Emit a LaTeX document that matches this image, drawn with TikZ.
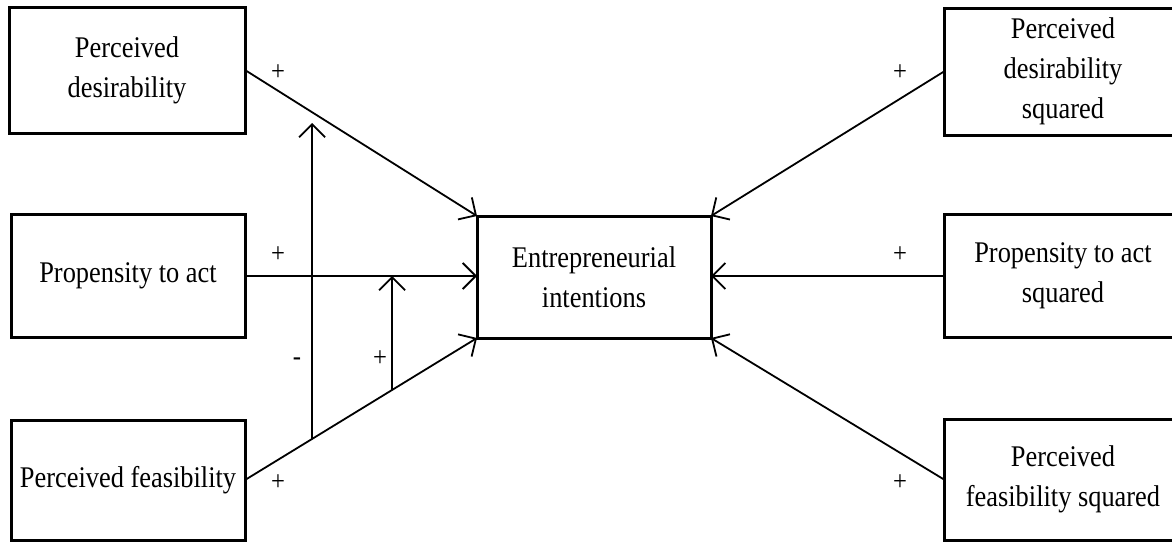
\documentclass[tikz,border=0pt]{standalone}
\usepackage{fontspec}
\setmainfont{Liberation Serif}[FakeStretch=0.88]
\usetikzlibrary{arrows.meta}
\begin{document}
\begin{tikzpicture}[x=1pt,y=-1pt,
  box/.style={draw,line width=3pt,outer sep=0pt,inner sep=2pt,align=center,
    font=\fontsize{30}{40}\selectfont},
  link/.style={line width=1.8pt,-{Straight Barb[length=13pt,width=26pt,line width=1.8pt]}},
  sign/.style={font=\fontsize{28}{28}\selectfont,inner sep=0pt}]
\clip (0,0) rectangle (1172,541);
\fill[white] (0,0) rectangle (1172,541);
% left boxes
\node[box,minimum width=236pt,minimum height=126pt] (PD) at (127,70) {Perceived\\desirability};
\node[box,minimum width=234pt,minimum height=123pt] (PA) at (128,276) {Propensity to act};
\node[box,minimum width=234pt,minimum height=120pt] (PF) at (128,480) {Perceived feasibility};
% centre
\node[box,minimum width=234pt,minimum height=122pt] (EI) at (594,277) {Entrepreneurial\\intentions};
% right boxes
\node[box,minimum width=238pt,minimum height=127pt] (PDS) at (1063,71.5) {Perceived\\desirability\\squared};
\node[box,minimum width=238pt,minimum height=123pt] (PAS) at (1063,276) {Propensity to act\\squared};
\node[box,minimum width=238pt,minimum height=121pt] (PFS) at (1063,479.5) {Perceived\\feasibility squared};
% arrows
\draw[link] (PD.east) -- (EI.north west);
\draw[link] (PA.east) -- (PA.east -| EI.west);
\draw[link] (PF.east) -- (EI.south west);
\draw[link] (PDS.west) -- (EI.north east);
\draw[link] (PAS.west) -- (PAS.west -| EI.east);
\draw[link] (PFS.west) -- (EI.south east);
% moderation arrows
\path (PF.east) -- (EI.south west) coordinate[pos=0.289] (m1) coordinate[pos=0.634] (m2);
\coordinate (t1) at (312,123);
\draw[link] (m1) -- (m1 |- t1);
\draw[link] (m2) -- (m2 |- PA.east);
% signs
\node[sign] (s1) at (278,73) {+};
\node[sign] (s2) at (278,255) {+};
\node[sign] (s3) at (278,483) {+};
\node[sign] (s4) at (297,362) {-};
\node[sign] (s5) at (380,359) {+};
\node[sign] (s6) at (900,73) {+};
\node[sign] (s7) at (900,255) {+};
\node[sign] (s8) at (900,483) {+};
\end{tikzpicture}
\end{document}
